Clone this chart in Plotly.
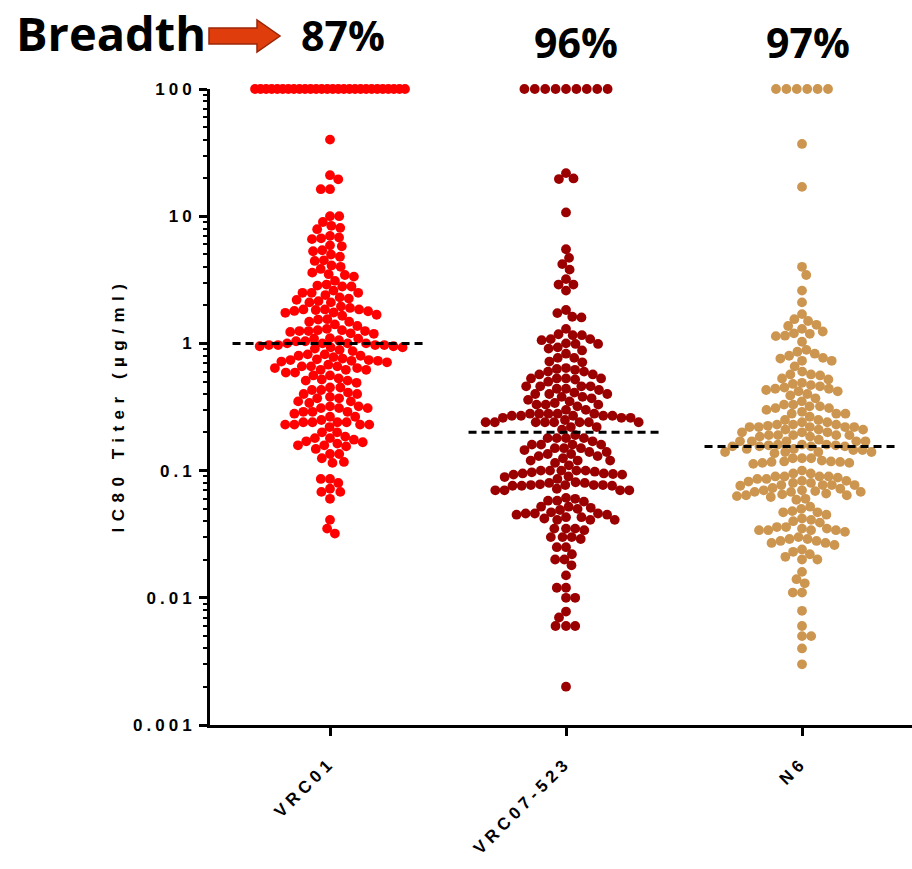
import numpy as np
import plotly.graph_objects as go

# ---------------- data ----------------
categories = ["VRC01", "VRC07-523", "N6"]
breadth_labels = ["87%", "96%", "97%"]
y_tick_values = [0.001, 0.01, 0.1, 1, 10, 100]
y_tick_labels = ["0.001", "0.01", "0.1", "1", "10", "100"]

vrc01_ic80 = [100] * 28 + [
    40, 21, 19.5, 16.3, 16.3, 10, 10, 9.0, 8.1, 8.4, 7.9, 7.0, 6.7, 6.6, 6.8,
    5.9, 5.4, 5.3, 5.8, 4.8, 5.0, 4.5, 4.45, 4.1, 4.0, 3.85,
    3.6, 3.45, 3.1, 3.35, 3.5,
    2.85, 2.8, 2.8, 2.9,
    2.5, 2.5, 2.4, 2.5, 2.6, 2.25, 2.3,
    2.15, 2.1, 1.95, 2.1, 2.2, 1.9,
    1.85, 1.83, 1.8, 1.75, 1.68, 1.74, 1.79, 1.85, 1.85, 1.65,
    1.55, 1.54, 1.48, 1.37, 1.41, 1.48,
    1.2, 1.27, 1.25, 1.25, 1.25, 1.27, 1.3, 1.19, 1.23,
    1.09, 1.09, 1.04, 1.0, 1.0, 1.0, 1.0, 1.04, 1.06, 1.1,
    0.95, 0.93, 0.89, 0.97, 0.93, 0.97, 0.97, 0.97, 0.87, 0.91, 0.95,
    0.75, 0.73, 0.73, 0.71, 0.66, 0.82, 0.8, 0.78, 0.8, 0.82, 0.68, 0.72, 0.74, 0.74, 0.76,
    0.66, 0.64, 0.62, 0.62, 0.62, 0.64, 0.66, 0.59, 0.56, 0.59, 0.56,
    0.53, 0.51, 0.49, 0.51, 0.52,
    0.45, 0.43, 0.41, 0.40, 0.38, 0.40, 0.43, 0.45,
    0.37, 0.35, 0.35, 0.37,
    0.32, 0.31, 0.31, 0.31, 0.32, 0.34, 0.29, 0.29, 0.28, 0.29,
    0.265, 0.25, 0.265, 0.24, 0.23, 0.23, 0.24, 0.24, 0.24, 0.22, 0.23, 0.23,
    0.20, 0.185, 0.20, 0.18, 0.175, 0.167, 0.158, 0.155, 0.148, 0.158, 0.163, 0.17, 0.18,
    0.135, 0.125, 0.135, 0.115, 0.117,
    0.086, 0.086, 0.08, 0.068, 0.068, 0.072, 0.06, 0.041, 0.035, 0.032,
]

vrc07_523_ic80 = [100] * 9 + [
    19.8, 19.6, 21.8, 10.7, 5.5, 4.7, 4.2, 3.8,
    3.2, 2.9, 2.9, 2.6,
    1.73, 1.6, 1.62, 1.83,
    1.18, 1.16, 1.0, 0.99, 1.08, 0.91, 1.06, 1.08, 1.16, 1.3, 0.88, 0.93, 0.99,
    0.83, 0.77, 0.71, 0.72, 0.77,
    0.64, 0.63, 0.60, 0.57, 0.53, 0.53, 0.52, 0.53, 0.53, 0.57, 0.60, 0.62,
    0.46, 0.46, 0.44, 0.43, 0.40, 0.40, 0.41, 0.44, 0.46, 0.46, 0.50,
    0.38, 0.37, 0.35, 0.33, 0.33, 0.33, 0.34, 0.36, 0.38, 0.40,
    0.30, 0.26, 0.26, 0.28, 0.24, 0.28, 0.24, 0.28, 0.24, 0.27, 0.24, 0.27, 0.22, 0.21,
    0.27, 0.27, 0.22, 0.24, 0.27, 0.24, 0.28, 0.24, 0.28, 0.24, 0.30, 0.25, 0.32, 0.26,
    0.19, 0.18, 0.18, 0.16, 0.16, 0.16, 0.16, 0.17, 0.18, 0.18,
    0.15, 0.145, 0.14, 0.135, 0.13, 0.125, 0.12, 0.12, 0.12, 0.13, 0.135, 0.14, 0.15, 0.15,
    0.115, 0.10, 0.10, 0.10, 0.095, 0.095, 0.093, 0.09, 0.089, 0.093, 0.094, 0.097, 0.098,
    0.10, 0.10, 0.11, 0.086,
    0.08, 0.077, 0.07, 0.077, 0.07, 0.076, 0.076, 0.072, 0.076, 0.077, 0.07, 0.077, 0.07,
    0.078, 0.08, 0.081,
    0.06, 0.058, 0.057, 0.058, 0.061, 0.052, 0.051, 0.049, 0.042, 0.046, 0.041, 0.045,
    0.045, 0.043, 0.043, 0.046, 0.041, 0.046, 0.041, 0.047, 0.05, 0.052,
    0.035, 0.035, 0.034, 0.035, 0.03, 0.029, 0.03, 0.03,
    0.025, 0.025, 0.022, 0.02, 0.02, 0.018, 0.015, 0.012, 0.012, 0.01, 0.01, 0.0078,
    0.007, 0.006, 0.006, 0.006, 0.002,
]

n6_ic80 = [100] * 6 + [
    37, 17, 4.0, 3.45,
    2.6, 2.1, 1.7, 1.5, 1.37, 1.4, 1.55, 1.3, 1.2, 1.15, 1.14, 1.19, 1.24, 1.03,
    0.89, 0.83, 0.77, 0.73, 0.73, 0.66, 0.76, 0.80, 0.86,
    0.60, 0.57, 0.57, 0.53, 0.49, 0.47, 0.45, 0.44, 0.42, 0.46, 0.48, 0.52, 0.56,
    0.42, 0.43, 0.44, 0.40, 0.37, 0.39,
    0.35, 0.33, 0.32, 0.31, 0.29, 0.28, 0.30, 0.31, 0.32, 0.33,
    0.28, 0.25, 0.24, 0.23, 0.23, 0.23, 0.24, 0.25, 0.265, 0.28,
    0.22, 0.22, 0.22, 0.21, 0.20, 0.20, 0.19, 0.19, 0.185, 0.185, 0.19, 0.19, 0.19,
    0.20, 0.21, 0.21, 0.22, 0.22, 0.225,
    0.175, 0.17, 0.17, 0.16, 0.158, 0.158, 0.155, 0.155, 0.148, 0.145, 0.145, 0.148,
    0.155, 0.155, 0.16, 0.16, 0.17, 0.17, 0.17, 0.14, 0.14, 0.137, 0.14, 0.14,
    0.125, 0.115, 0.117, 0.12, 0.118, 0.117, 0.118, 0.125, 0.125, 0.113, 0.115,
    0.09, 0.09, 0.086, 0.083, 0.08, 0.077, 0.077, 0.076, 0.073, 0.07, 0.077, 0.077,
    0.08, 0.082, 0.083, 0.086, 0.088, 0.09, 0.095, 0.09, 0.095, 0.10,
    0.072, 0.07, 0.068, 0.068, 0.066, 0.064, 0.062, 0.059, 0.06, 0.063, 0.064, 0.065,
    0.068, 0.069,
    0.05, 0.047, 0.045, 0.042, 0.047, 0.048, 0.052, 0.041, 0.04,
    0.039, 0.036, 0.034, 0.034, 0.034, 0.034, 0.035, 0.035, 0.033, 0.036,
    0.03, 0.029, 0.028, 0.027, 0.026, 0.027, 0.028, 0.029,
    0.023, 0.021, 0.02, 0.02, 0.022, 0.024,
    0.016, 0.014, 0.013, 0.011, 0.011, 0.0079, 0.006, 0.005, 0.005, 0.004, 0.003,
]

series = [vrc01_ic80, vrc07_523_ic80, n6_ic80]
colors = ["#FF0000", "#9B0000", "#CC9650"]
CAP = 100  # values >= cap are "not neutralized" and drawn on the top row

# ---------------- geometry ----------------
W, H = 912, 869
ML, MR, MT, MB = 210, 0, 89, 144
XR = [-0.5085, 2.4661]
plot_w = W - ML - MR
plot_h = H - MT - MB
px_per_cat = plot_w / (XR[1] - XR[0])
px_per_dec = plot_h / 5.0
DOT = 9.8


def px_to_paper(px, py):
    return (px - ML) / plot_w, (H - MB - py) / plot_h


def swarm(values, d=9.2, cap_width=150, cap_step=10.4):
    """Beeswarm horizontal offsets (category units) for one column."""
    vals = np.asarray(values, dtype=float)
    logs = np.log10(vals)
    xo = np.zeros(len(vals))
    capped = np.where(vals >= CAP)[0]
    free = np.where(vals < CAP)[0]
    n = len(capped)
    if n > 1:
        s = min(cap_step, cap_width / (n - 1))
        xo[capped] = (np.arange(n) - (n - 1) / 2) * s
    placed = []
    side = 1
    order = free[np.argsort(-logs[free], kind="stable")]
    for i in order:
        yi = logs[i] * px_per_dec
        forb = []
        for xj, yj in placed:
            dy = abs(yi - yj)
            if dy < d:
                dx = np.sqrt(d * d - dy * dy)
                forb.append((xj - dx, xj + dx))
        cands = [0.0] + [a for a, b in forb] + [b for a, b in forb]
        cands.sort(key=lambda c: (round(abs(c), 6), -side * c))
        best = 0.0
        for c in cands:
            if all(not (a + 1e-6 < c < b - 1e-6) for a, b in forb):
                best = c
                break
        xo[i] = best
        if best != 0:
            side = -1 if best > 0 else 1
        placed.append((best, yi))
    return xo / px_per_cat


fig = go.Figure()
for k, (vals, col) in enumerate(zip(series, colors)):
    xo = swarm(vals)
    fig.add_trace(go.Scatter(
        x=k + xo, y=vals, mode="markers", name=categories[k],
        marker=dict(size=DOT, color=col, line=dict(width=0)),
        cliponaxis=False, showlegend=False, hoverinfo="y",
    ))

# median lines
for k, vals in enumerate(series):
    med = float(np.median(vals))
    fig.add_trace(go.Scatter(
        x=[k - 0.413, k + 0.413], y=[med, med], mode="lines",
        line=dict(color="black", width=3, dash="8px,5px"),
        showlegend=False, hoverinfo="skip", cliponaxis=False,
    ))

tick_font = dict(family="Liberation Sans, Arial", size=17, color="black", weight=700)
minor_vals = [m * 10.0 ** e for e in range(-3, 2) for m in range(2, 10)]

fig.update_layout(
    width=W, height=H,
    margin=dict(l=ML, r=MR, t=MT, b=MB, pad=0),
    paper_bgcolor="white", plot_bgcolor="white",
    xaxis=dict(
        range=XR, tickvals=[0, 1, 2], ticktext=categories, tickangle=-45,
        ticks="outside", ticklen=8, tickwidth=2.5, tickcolor="black",
        showline=True, linewidth=3, linecolor="black", ticklabelstandoff=10,
        showgrid=False, zeroline=False, tickfont=tick_font, fixedrange=True,
    ),
    yaxis=dict(
        type="log", range=[-3, 2], tickvals=y_tick_values, ticktext=y_tick_labels,
        ticks="outside", ticklen=8, tickwidth=2.5, tickcolor="black",
        showline=True, linewidth=3, linecolor="black",
        showgrid=False, zeroline=False, tickfont=tick_font,
        minor=dict(tickvals=minor_vals, ticks="outside", ticklen=4,
                   tickwidth=2, tickcolor="black", showgrid=False),
    ),
)

# y-axis title (annotation so it can be placed exactly)
tx, ty = px_to_paper(118, 405)
fig.add_annotation(
    text="IC80 Titer (µg/ml)", xref="paper", yref="paper", x=tx, y=ty,
    textangle=-90, showarrow=False, xanchor="center", yanchor="middle",
    font=dict(family="Liberation Sans, Arial", size=17, color="black", weight=700),
)

# "Breadth" headline
bx, by = px_to_paper(14, 33)
fig.add_annotation(
    text="Breadth", xref="paper", yref="paper", x=bx, y=by,
    xanchor="left", yanchor="middle", showarrow=False,
    font=dict(family="Open Sans", size=47, color="black", weight=700),
)

# percentages above each column
pct_px = [(343, 35), (576, 42), (808, 42)]
for lab, (px, py) in zip(breadth_labels, pct_px):
    x_p, y_p = px_to_paper(px, py)
    fig.add_annotation(
        text=lab, xref="paper", yref="paper", x=x_p, y=y_p,
        xanchor="center", yanchor="middle", showarrow=False,
        font=dict(family="Open Sans", size=41, color="black", weight=700),
    )

# block arrow next to "Breadth"
arrow_px = [(209, 28), (257, 28), (257, 20), (280, 36), (257, 52), (257, 44), (209, 44)]
pts = [px_to_paper(a, b) for a, b in arrow_px]
path = "M " + " L ".join(f"{a:.5f},{b:.5f}" for a, b in pts) + " Z"
fig.add_shape(type="path", path=path, xref="paper", yref="paper",
              fillcolor="#E03D0C", line=dict(color="#9A2608", width=1.5), layer="above")

css = (".ytick text{letter-spacing:4px;} .xtick text{letter-spacing:4.5px;} "
       "g.annotation[data-index='0'] text{letter-spacing:6.5px;}")
post = ("var s=document.createElement('style');s.innerHTML=\"" + css +
        "\";document.head.appendChild(s);")
fig.write_html("out.html", post_script=post)
